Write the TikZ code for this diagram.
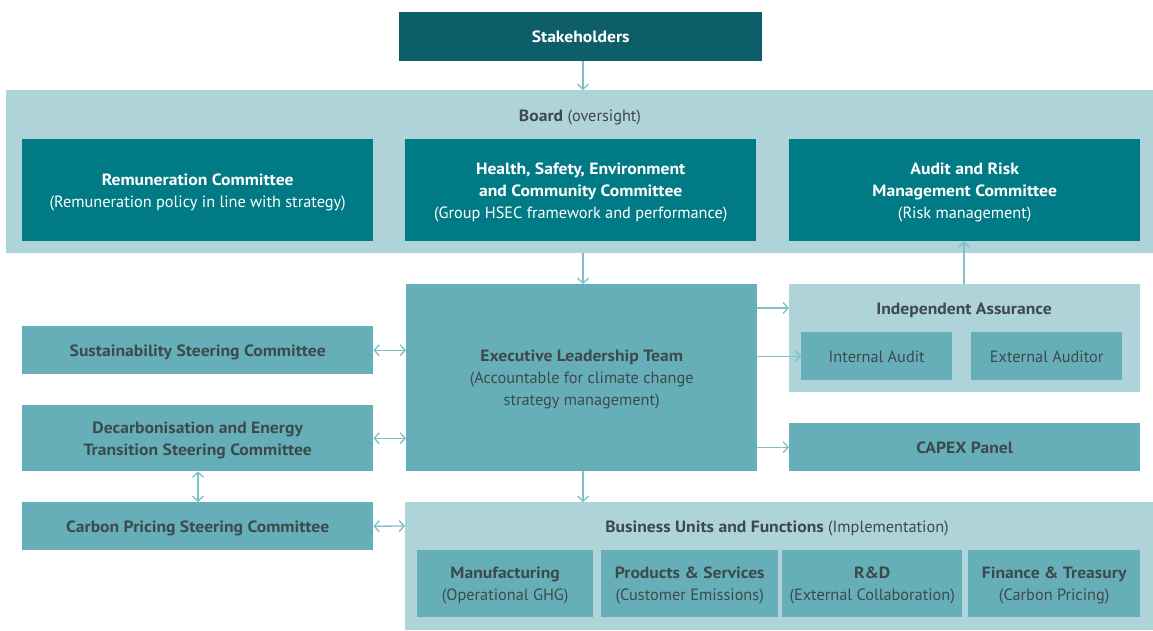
\documentclass[tikz,border=0pt]{standalone}
\usepackage{fontspec}
\setmainfont{PT Sans}[BoldFeatures={FakeStretch=1.08}]
\usetikzlibrary{arrows.meta}
\definecolor{darkT}{HTML}{0E5E69}
\definecolor{boxT}{HTML}{007A84}
\definecolor{midT}{HTML}{66AFB8}
\definecolor{lightT}{HTML}{AED3D8}
\definecolor{txtG}{HTML}{3D4A4C}
\definecolor{arrC}{HTML}{7FC0C7}
\tikzset{
  x=1pt,y=-1pt,
  every node/.style={font=\fontsize{16.3}{22}\selectfont, align=center, inner sep=0pt, text depth=0pt},
  bfn/.style={font=\fontsize{16.3}{22}\selectfont\bfseries},
  conn/.style={draw=arrC, line width=1.3pt, -{Straight Barb[length=5pt,width=11pt,line width=1.3pt]}},
  dconn/.style={draw=arrC, line width=1.3pt, {Straight Barb[length=5pt,width=11pt,line width=1.3pt]}-{Straight Barb[length=5pt,width=11pt,line width=1.3pt]}},
}
\begin{document}
\begin{tikzpicture}
\useasboundingbox (0,0) rectangle (1153,630);
% containers
\fill[lightT] (6,90) rectangle (1153,253);
\fill[lightT] (789,284) rectangle (1140,392);
\fill[lightT] (405,502) rectangle (1153,630);
% stakeholders
\node[fill=darkT, minimum width=363pt, minimum height=49pt, anchor=north west, text=white, bfn] (stk) at (399,12) {Stakeholders};
\node[text=txtG] (board) at (580,116) {\textbf{Board} (oversight)};
\coordinate (boardtop) at (583,90);
\coordinate (boardbot) at (583,253);
% board committees
\node[fill=boxT, minimum width=351pt, minimum height=102pt, anchor=north west, text=white] (rem) at (22,139) {\textbf{Remuneration Committee}\\(Remuneration policy in line with strategy)};
\node[fill=boxT, minimum width=351pt, minimum height=102pt, anchor=north west, text=white] (hsec) at (405,139) {\textbf{Health, Safety, Environment}\\\textbf{and Community Committee}\\(Group HSEC framework and performance)};
\node[fill=boxT, minimum width=351pt, minimum height=102pt, anchor=north west, text=white] (arm) at (789,139) {\textbf{Audit and Risk}\\\textbf{Management Committee}\\(Risk management)};
% ELT
\node[fill=midT, minimum width=351pt, minimum height=187pt, anchor=north west, text=txtG] (elt) at (406,284) {\textbf{Executive Leadership Team}\\(Accountable for climate change\\strategy management)};
% Independent assurance
\node[text=txtG, bfn] (ia) at (964,309) {Independent Assurance};
\coordinate (iatop) at (964,284);
\coordinate (ialeft) at (789,308);
\node[fill=midT, minimum width=151pt, minimum height=48pt, anchor=north west, text=txtG] (intaud) at (801,332) {Internal Audit};
\node[fill=midT, minimum width=151pt, minimum height=48pt, anchor=north west, text=txtG] (extaud) at (971,332) {External Auditor};
\node[fill=midT, minimum width=351pt, minimum height=48pt, anchor=north west, text=txtG, bfn] (capex) at (789,423) {CAPEX Panel};
% left steering committees
\node[fill=midT, minimum width=351pt, minimum height=48pt, anchor=north west, text=txtG, bfn] (ssc) at (22,326) {Sustainability Steering Committee};
\node[fill=midT, minimum width=351pt, minimum height=66pt, anchor=north west, text=txtG, bfn] (dec) at (22,405) {Decarbonisation and Energy\\Transition Steering Committee};
\node[fill=midT, minimum width=351pt, minimum height=48pt, anchor=north west, text=txtG, bfn] (cps) at (22,502) {Carbon Pricing Steering Committee};
% business units
\node[text=txtG] (bu) at (777,527) {\textbf{Business Units and Functions} (Implementation)};
\coordinate (butop) at (583,502);
\coordinate (buleft) at (405,526);
\node[fill=midT, minimum width=176pt, minimum height=67pt, anchor=north west, text=txtG] (man) at (417,550) {\textbf{Manufacturing}\\(Operational GHG)};
\node[fill=midT, minimum width=177pt, minimum height=67pt, anchor=north west, text=txtG] (prod) at (601,550) {\textbf{Products \& Services}\\(Customer Emissions)};
\node[fill=midT, minimum width=180pt, minimum height=67pt, anchor=north west, text=txtG] (rd) at (782,550) {\textbf{R\&D}\\(External Collaboration)};
\node[fill=midT, minimum width=172pt, minimum height=67pt, anchor=north west, text=txtG] (fin) at (968,550) {\textbf{Finance \& Treasury}\\(Carbon Pricing)};
% connectors
\draw[conn] (stk.south -| boardtop) -- (boardtop);
\draw[conn] (boardbot) -- (elt.north -| boardbot);
\draw[conn] (iatop) -- (arm.south -| iatop);
\draw[conn] (elt.east |- ialeft) -- (ialeft);
\draw[conn] (elt.east |- intaud.west) -- (intaud.west);
\draw[conn] (elt.east |- capex.west) -- (capex.west);
\draw[conn] (elt.south -| butop) -- (butop);
\draw[dconn] (ssc.east) -- (elt.west |- ssc.east);
\draw[dconn] (dec.east) -- (elt.west |- dec.east);
\draw[dconn] (cps.east) -- (buleft);
\draw[dconn] (dec.south -| 198,0) -- (cps.north -| 198,0);
\end{tikzpicture}
\end{document}
